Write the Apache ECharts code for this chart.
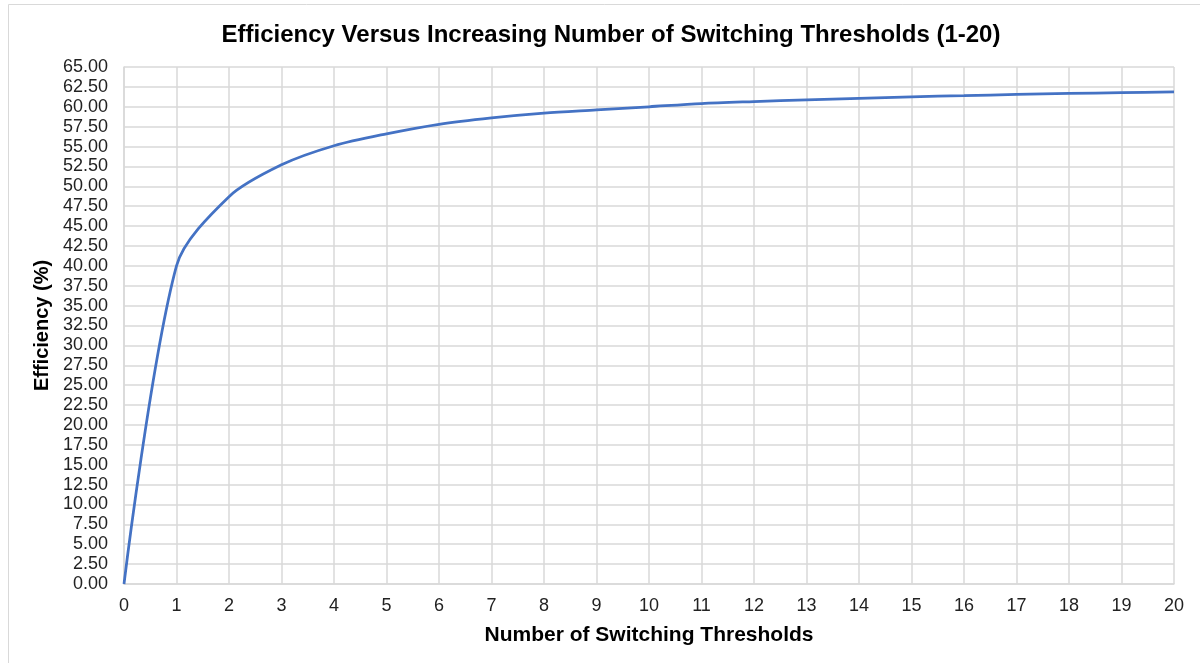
<!DOCTYPE html>
<html>
<head>
<meta charset="utf-8">
<script src="https://cdn.jsdelivr.net/npm/echarts@6/dist/echarts.min.js"></script>
<style>
  html, body { margin: 0; padding: 0; background: #ffffff; }
  #chart { width: 1200px; height: 663px; }
</style>
</head>
<body>
<div id="chart"></div>
<script>
// Number of switching thresholds (x) and the resulting efficiency in percent (y)
const thresholds = [0, 1, 2, 3, 4, 5, 6, 7, 8, 9, 10, 11, 12, 13, 14, 15, 16, 17, 18, 19, 20];
const efficiency = [0, 40.0, 48.7, 52.7, 55.1, 56.6, 57.8, 58.6, 59.2, 59.6, 60.0,
                    60.4, 60.65, 60.87, 61.07, 61.25, 61.4, 61.55, 61.67, 61.77, 61.87];

const titleText = 'Efficiency Versus Increasing Number of Switching Thresholds (1-20)';
const xAxisTitle = 'Number of Switching Thresholds';
const yAxisTitle = 'Efficiency (%)';

const FONT = '"Liberation Sans", Arial, Helvetica, sans-serif';
const GRID_COLOR = '#d9d9d9';

const points = thresholds.map((x, i) => [x, efficiency[i]]);

const chart = echarts.init(document.getElementById('chart'), null, { renderer: 'canvas' });

chart.setOption({
  backgroundColor: '#ffffff',
  animation: false,
  title: {
    text: titleText,
    left: 606,
    top: 18,
    textAlign: 'center',
    textStyle: { fontFamily: FONT, fontSize: 24, fontWeight: 'bold', color: '#000000' }
  },
  graphic: [
    { type: 'line', shape: { x1: 8.5, y1: 4.5, x2: 1200, y2: 4.5 }, style: { stroke: '#d9d9d9', lineWidth: 1 } },
    { type: 'line', shape: { x1: 8.5, y1: 4.5, x2: 8.5, y2: 663 }, style: { stroke: '#d9d9d9', lineWidth: 1 } }
  ],
  grid: { left: 124, right: 26, top: 67, bottom: 79, containLabel: false },
  xAxis: {
    type: 'value',
    min: 0,
    max: 20,
    interval: 1,
    name: xAxisTitle,
    nameLocation: 'middle',
    nameGap: 41,
    nameTextStyle: { fontFamily: FONT, fontSize: 21, fontWeight: 'bold', color: '#000000', verticalAlign: 'top' },
    axisLine: { show: true, lineStyle: { color: GRID_COLOR, width: 1.5 } },
    axisTick: { show: false },
    axisLabel: { fontFamily: FONT, fontSize: 18, color: '#222222', margin: 13 },
    splitLine: { show: true, lineStyle: { color: GRID_COLOR, width: 1.5 } }
  },
  yAxis: {
    type: 'value',
    min: 0,
    max: 65,
    interval: 2.5,
    name: yAxisTitle,
    nameLocation: 'middle',
    nameGap: 70,
    nameRotate: 90,
    nameTextStyle: { fontFamily: FONT, fontSize: 20, fontWeight: 'bold', color: '#000000' },
    axisLine: { show: true, lineStyle: { color: GRID_COLOR, width: 1.5 } },
    axisTick: { show: false },
    axisLabel: {
      fontFamily: FONT, fontSize: 18, color: '#222222', margin: 16,
      formatter: v => v.toFixed(2)
    },
    splitLine: { show: true, lineStyle: { color: GRID_COLOR, width: 1.5 } }
  },
  series: [{
    type: 'line',
    data: points,
    smooth: 0.3,
    showSymbol: false,
    lineStyle: { color: '#4472C4', width: 2.75 },
    itemStyle: { color: '#4472C4' }
  }]
});
</script>
</body>
</html>
